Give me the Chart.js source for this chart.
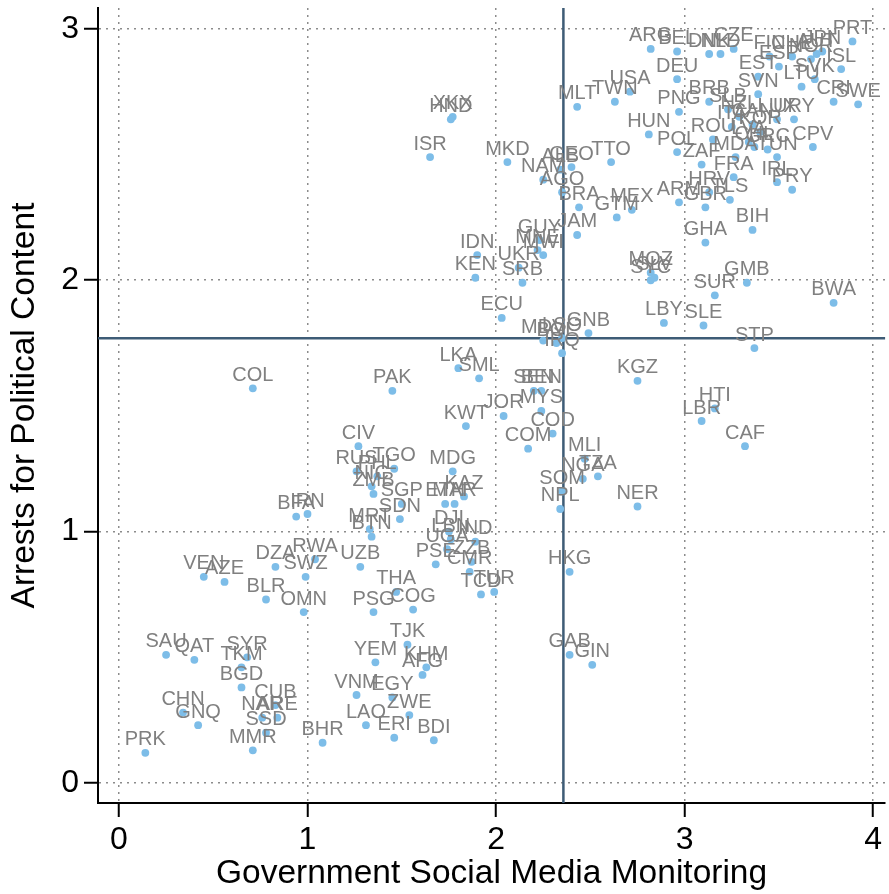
<!DOCTYPE html>
<html>
<head>
<meta charset="utf-8">
<script src="https://cdn.jsdelivr.net/npm/chart.js@4.4.1/dist/chart.umd.min.js"></script>
<style>
html, body { margin: 0; padding: 0; background: #fff; overflow: hidden; }
canvas { display: block; }
</style>
</head>
<body>
<canvas id="c" width="889" height="894"></canvas>
<script>
// Country codes and their two indicator scores
const countryCodes = [
  'ARG','BEL','DNK','NLD','CZE','FIN','CHE','NOR','AUT','JPN','PRT',
  'DEU','EST','ESP','LTU','SVK','ISL','USA','TWN','MLT','BRB','SVN','CRI','SWE',
  'PNG','SLB','NZL','ITA','CAN','KOR','LUX','URY','HUN','ROU','LVA','CHL','GRC',
  'TUN','CPV','POL','ZAF','MDA','FRA','IRL','PRY','HRV','TLS','ARM','GBR','MEX',
  'GTM','BIH','GHA','TTO','XKX','HND','ISR','MKD','ALB','GEO','NAM','AGO','BRA',
  'JAM','GUY','MNE','MWI','UKR','IDN','KEN','SRB','ECU','GNB','LSO','MDV','BOL',
  'IRQ','MOZ','SLV','SYC','GMB','SUR','BWA','LBY','SLE','STP','KGZ','HTI','LBR',
  'CAF','MLI','NGA','TZA','SOM','NPL','NER','LKA','SML','PAK','SEN','BEN','MYS',
  'JOR','KWT','COD','COM','MDG','KAZ','ETH','MAR','SGP','SDN','DJI','LBN','IND',
  'UGA','PSE','ZZB','CMR','TCD','TUR','HKG','GAB','GIN','THA','PSG','COG','TJK',
  'KHM','AFG','YEM','VNM','EGY','ZWE','LAO','ERI','BDI','BHR','COL','CIV','TGO',
  'RUS','PHL','NIC','ZMB','MRT','BTN','BFA','IRN','RWA','SWZ','DZA','UZB','VEN',
  'AZE','BLR','OMN','SAU','QAT','SYR','TKM','BGD','CUB','NAR','ARE','SSD','CHN',
  'GNQ','MMR','PRK'
];

const socialMediaMonitoring = [
  2.82,2.96,3.13,3.19,3.26,3.45,3.57,3.67,3.70,3.73,3.89,
  2.96,3.39,3.50,3.62,3.69,3.83,2.71,2.63,2.43,3.13,3.39,3.79,3.92,
  2.97,3.23,3.29,3.25,3.36,3.40,3.49,3.58,2.81,3.15,3.34,3.37,3.44,
  3.49,3.68,2.96,3.09,3.27,3.26,3.49,3.57,3.13,3.24,2.97,3.11,2.72,
  2.64,3.36,3.11,2.61,1.77,1.76,1.65,2.06,2.34,2.40,2.25,2.35,2.44,
  2.43,2.23,2.22,2.25,2.12,1.90,1.89,2.14,2.03,2.49,2.35,2.25,2.32,
  2.35,2.82,2.84,2.82,3.33,3.16,3.79,2.89,3.10,3.37,2.75,3.16,3.09,
  3.32,2.47,2.46,2.54,2.35,2.34,2.75,1.80,1.91,1.45,2.20,2.24,2.24,
  2.04,1.84,2.30,2.17,1.77,1.83,1.73,1.78,1.50,1.49,1.75,1.76,1.89,
  1.74,1.68,1.87,1.86,1.92,1.99,2.39,2.39,2.51,1.47,1.35,1.56,1.53,
  1.63,1.61,1.36,1.26,1.45,1.54,1.31,1.46,1.67,1.08,0.71,1.27,1.46,
  1.26,1.37,1.34,1.35,1.33,1.34,0.94,1.00,1.04,0.99,0.83,1.28,0.45,
  0.56,0.78,0.98,0.25,0.40,0.68,0.65,0.65,0.83,0.76,0.84,0.78,0.34,
  0.42,0.71,0.14
];

const politicalArrests = [
  2.92,2.91,2.90,2.90,2.92,2.89,2.89,2.88,2.90,2.91,2.95,
  2.80,2.81,2.85,2.77,2.80,2.84,2.75,2.71,2.69,2.71,2.74,2.71,2.70,
  2.67,2.68,2.65,2.61,2.62,2.59,2.64,2.64,2.58,2.56,2.55,2.53,2.52,
  2.49,2.53,2.51,2.46,2.49,2.41,2.39,2.36,2.35,2.32,2.31,2.29,2.28,
  2.25,2.20,2.15,2.47,2.65,2.64,2.49,2.47,2.44,2.45,2.40,2.35,2.29,
  2.18,2.16,2.12,2.10,2.05,2.10,2.01,1.99,1.85,1.79,1.77,1.76,1.75,
  1.71,2.03,2.01,2.00,1.99,1.94,1.91,1.83,1.82,1.73,1.60,1.49,1.44,
  1.34,1.29,1.21,1.22,1.16,1.09,1.10,1.65,1.61,1.56,1.56,1.56,1.48,
  1.46,1.42,1.39,1.33,1.24,1.14,1.11,1.11,1.11,1.05,1.00,0.97,0.96,
  0.93,0.87,0.88,0.84,0.75,0.76,0.84,0.51,0.47,0.76,0.68,0.69,0.55,
  0.46,0.43,0.48,0.35,0.34,0.27,0.23,0.18,0.17,0.16,1.57,1.34,1.25,
  1.24,1.22,1.18,1.15,1.01,0.98,1.06,1.07,0.89,0.82,0.86,0.86,0.82,
  0.80,0.73,0.68,0.51,0.49,0.50,0.46,0.38,0.31,0.26,0.26,0.20,0.28,
  0.23,0.13,0.12
];

const xTickValues = [0, 1, 2, 3, 4];
const yTickValues = [0, 1, 2, 3];

// Sample means drawn as reference lines
const meanMonitoring = 2.357;
const meanArrests = 1.769;

const FONT = '"Liberation Sans", Arial, Helvetica, sans-serif';

// Solid reference lines at the means, under the markers
const referenceLines = {
  id: 'referenceLines',
  beforeDatasetsDraw(chart) {
    const { ctx, chartArea: a, scales: { x, y } } = chart;
    const px = x.getPixelForValue(meanMonitoring);
    const py = y.getPixelForValue(meanArrests);
    ctx.save();
    ctx.strokeStyle = '#3e5c76';
    ctx.lineWidth = 2.5;
    ctx.beginPath();
    ctx.moveTo(px, a.top); ctx.lineTo(px, a.bottom);
    ctx.moveTo(a.left, py); ctx.lineTo(a.right, py);
    ctx.stroke();
    ctx.restore();
  }
};

// Country code written above each marker
const markerLabels = {
  id: 'markerLabels',
  afterDatasetsDraw(chart) {
    const meta = chart.getDatasetMeta(0);
    const ctx = chart.ctx;
    ctx.save();
    ctx.font = '20px ' + FONT;
    ctx.fillStyle = '#808080';
    ctx.textAlign = 'center';
    ctx.textBaseline = 'alphabetic';
    meta.data.forEach((pt, i) => {
      ctx.fillText(countryCodes[i], pt.x, pt.y - 7.5);
    });
    ctx.restore();
  }
};

const points = countryCodes.map((c, i) => ({ x: socialMediaMonitoring[i], y: politicalArrests[i] }));

const gridStyle = {
  color: '#8c8c8c',
  lineWidth: 1.5,
  tickColor: '#000',
  tickWidth: 2,
  tickLength: 14
};

new Chart(document.getElementById('c'), {
  type: 'scatter',
  data: {
    datasets: [{
      data: points,
      pointRadius: 3.9,
      pointHoverRadius: 3.9,
      pointBorderWidth: 0,
      backgroundColor: 'rgb(125,189,232)',
      borderColor: 'rgb(125,189,232)'
    }]
  },
  options: {
    responsive: false,
    animation: false,
    devicePixelRatio: 1,
    layout: { padding: { top: 8, right: 0, bottom: 0, left: 0 } },
    plugins: { legend: { display: false }, tooltip: { enabled: false } },
    scales: {
      x: {
        type: 'linear',
        min: -0.111,
        max: 4.063,
        afterBuildTicks: s => { s.ticks = xTickValues.map(v => ({ value: v })); },
        afterFit: s => { s.height = 91; s.paddingLeft = 0; s.paddingRight = 0; },
        grid: gridStyle,
        border: { display: true, color: '#000', width: 2, dash: [2, 5] },
        ticks: { font: { size: 32, family: FONT }, color: '#000', padding: 4, maxRotation: 0 },
        title: {
          display: true,
          text: 'Government Social Media Monitoring',
          font: { size: 33.5, family: FONT },
          color: '#000',
          padding: { top: 0, bottom: 0 }
        }
      },
      y: {
        type: 'linear',
        min: -0.0796,
        max: 3.083,
        afterBuildTicks: s => { s.ticks = yTickValues.map(v => ({ value: v })); },
        afterFit: s => { s.width = 98; s.paddingTop = 0; s.paddingBottom = 0; },
        grid: gridStyle,
        border: { display: true, color: '#000', width: 2, dash: [2, 5] },
        ticks: { font: { size: 32, family: FONT }, color: '#000', padding: 5 },
        title: {
          display: true,
          text: 'Arrests for Political Content',
          font: { size: 33.5, family: FONT },
          color: '#000',
          padding: { top: 5, bottom: 0 }
        }
      }
    }
  },
  plugins: [referenceLines, markerLabels]
});
</script>
</body>
</html>
